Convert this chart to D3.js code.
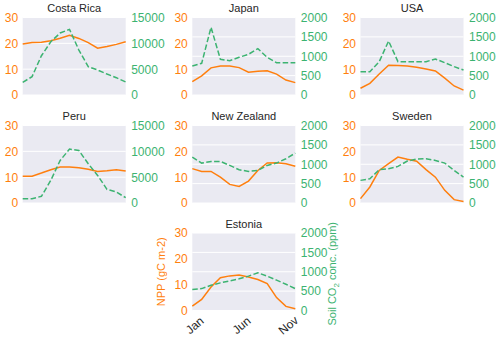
<!DOCTYPE html>
<html>
<head>
<meta charset="utf-8">
<script src="https://cdn.jsdelivr.net/npm/d3@7"></script>
<style>
  body { margin: 0; background: #fff; }
  svg { display: block; font-family: "Liberation Sans", Arial, sans-serif; }
</style>
</head>
<body>
<div id="chart"></div>
<script>

/* DATA */

var months = ["Jan", "Feb", "Mar", "Apr", "May", "Jun", "Jul", "Aug", "Sep", "Oct", "Nov", "Dec"];
var xTickLabels = ["Jan", "Jun", "Nov"];
var countries = ["Costa Rica", "Japan", "USA", "Peru", "New Zealand", "Sweden", "Estonia"];

var nppCostaRica  = [19.7, 20.3, 20.4, 21.0, 22.0, 23.1, 21.9, 20.3, 18.1, 18.8, 19.6, 20.6];
var nppJapan      = [5.2, 7.4, 10.5, 11.2, 11.2, 10.6, 8.8, 9.2, 9.4, 8.1, 5.8, 4.8];
var nppUSA        = [2.6, 4.5, 8.1, 11.5, 11.4, 11.2, 10.7, 10.1, 9.3, 6.5, 3.5, 1.9];
var nppPeru       = [10.4, 10.4, 11.6, 12.9, 13.9, 13.9, 13.6, 13.1, 12.2, 12.5, 12.9, 12.4];
var nppNewZealand = [13.3, 12.2, 12.2, 10.0, 7.2, 6.4, 8.5, 12.6, 15.5, 15.6, 15.2, 14.2];
var nppSweden     = [1.7, 6.2, 12.6, 15.2, 17.8, 16.9, 16.2, 12.9, 10.0, 4.9, 1.3, 0.6];
var nppEstonia    = [1.7, 4.3, 9.1, 12.7, 13.4, 13.7, 13.0, 12.0, 10.4, 5.0, 1.6, 0.7];

var co2CostaRica  = [2450, 3550, 7600, 10300, 12000, 12700, 8700, 5480, 4840, 4060, 3350, 2520];
var co2Japan      = [748, 817, 1746, 920, 886, 972, 1050, 1196, 972, 834, 834, 834];
var co2USA        = [602, 602, 860, 1394, 860, 860, 860, 860, 929, 834, 731, 645];
var co2Peru       = [840, 840, 1290, 4380, 8240, 10430, 10170, 7600, 5340, 2640, 2120, 1030];
var co2NewZealand = [1185, 1030, 1073, 1073, 970, 858, 815, 841, 970, 1030, 1142, 1288];
var co2Sweden     = [584, 627, 858, 885, 944, 1082, 1133, 1142, 1099, 1030, 841, 670];
var co2Estonia    = [539, 565, 652, 713, 765, 817, 887, 974, 887, 783, 678, 565];

var nppTicks = [0, 10, 20, 30];
var co2TicksHigh = [0, 5000, 10000, 15000];
var co2TicksLow = [0, 500, 1000, 1500, 2000];

var nppSeries = [nppCostaRica, nppJapan, nppUSA, nppPeru, nppNewZealand, nppSweden, nppEstonia];
var co2Series = [co2CostaRica, co2Japan, co2USA, co2Peru, co2NewZealand, co2Sweden, co2Estonia];

/* LAYOUT */

var w = 500;
var h = 340;
var colLeft = [22.7, 192.3, 360.5];
var rowTop = [17.5, 125.5, 233];
var pw = 103;
var ph = 77.5;
var slots = [[0,0],[1,0],[2,0],[0,1],[1,1],[2,1],[1,2]];

var orange = "#ff7f0e";
var green = "#3cb371";
var tickSize = "12px";

var svg = d3.select("#chart").append("svg")
            .attr("width", w)
            .attr("height", h);

countries.forEach(function(name, i){

  var npp = nppSeries[i];
  var co2 = co2Series[i];
  var rTicks = d3.max(co2) > 2000 ? co2TicksHigh : co2TicksLow;

  var x = d3.scaleLinear().domain([0, months.length - 1]).range([0, pw]);
  var yL = d3.scaleLinear().domain([0, d3.max(nppTicks)]).range([ph, 0]);
  var yR = d3.scaleLinear().domain([0, d3.max(rTicks)]).range([ph, 0]);

  var g = svg.append("g")
             .attr("transform", "translate(" + colLeft[slots[i][0]] + "," + rowTop[slots[i][1]] + ")");

  g.append("rect")
   .attr("width", pw)
   .attr("height", ph)
   .style("fill", "#eaeaf2");

  // grid comes from the twin (right) axis
  g.selectAll("line.grid")
   .data(rTicks)
   .enter().append("line")
   .attr("class", "grid")
   .attr("x1", 0).attr("x2", pw)
   .attr("y1", function(d){ return yR(d); })
   .attr("y2", function(d){ return yR(d); })
   .style("stroke", "#fff")
   .style("stroke-width", 1);

  g.append("text")
   .attr("x", pw/2)
   .attr("y", -5.5)
   .attr("text-anchor", "middle")
   .style("font-size", "11px")
   .style("fill", "#262626")
   .text(name);

  var left = g.append("g")
              .call(d3.axisLeft(yL).tickValues(nppTicks).tickFormat(d3.format("d")).tickSize(0).tickPadding(4.5));
  left.select(".domain").remove();
  left.selectAll("text").style("font-size", tickSize).style("fill", orange);

  var right = g.append("g")
               .attr("transform", "translate(" + pw + ",0)")
               .call(d3.axisRight(yR).tickValues(rTicks).tickFormat(d3.format("d")).tickSize(0).tickPadding(5.5));
  right.select(".domain").remove();
  right.selectAll("text").style("font-size", tickSize).style("fill", green);

  g.append("path")
   .datum(npp)
   .attr("d", d3.line().x(function(d, j){ return x(j); }).y(function(d){ return yL(d); }))
   .style("fill", "none")
   .style("stroke", orange)
   .style("stroke-width", 1.5);

  g.append("path")
   .datum(co2)
   .attr("d", d3.line().x(function(d, j){ return x(j); }).y(function(d){ return yR(d); }))
   .style("fill", "none")
   .style("stroke", green)
   .style("stroke-width", 1.5)
   .style("stroke-dasharray", "5.5,2.4");

  if (name == "Estonia") {
    g.selectAll("text.month")
     .data(xTickLabels)
     .enter().append("text")
     .attr("class", "month")
     .attr("transform", function(d){
       return "translate(" + (x(months.indexOf(d)) + 5) + "," + (ph + 18) + ") rotate(-40)";
     })
     .attr("text-anchor", "middle")
     .style("font-size", tickSize)
     .style("fill", "#262626")
     .text(function(d){ return d; });

    g.append("text")
     .attr("transform", "translate(-27," + ph/2 + ") rotate(-90)")
     .attr("text-anchor", "middle")
     .style("font-size", "11px")
     .style("fill", orange)
     .text("NPP (gC m-2)");

    var yl = g.append("text")
              .attr("transform", "translate(" + (pw + 41) + "," + (ph/2 + 2) + ") rotate(-90)")
              .attr("text-anchor", "middle")
              .style("font-size", "11px")
              .style("fill", green);
    yl.append("tspan").text("Soil CO");
    yl.append("tspan").attr("dy", 3).style("font-size", "8px").text("2");
    yl.append("tspan").attr("dy", -3).text(" conc. (ppm)");
  }

});

</script>
</body>
</html>
